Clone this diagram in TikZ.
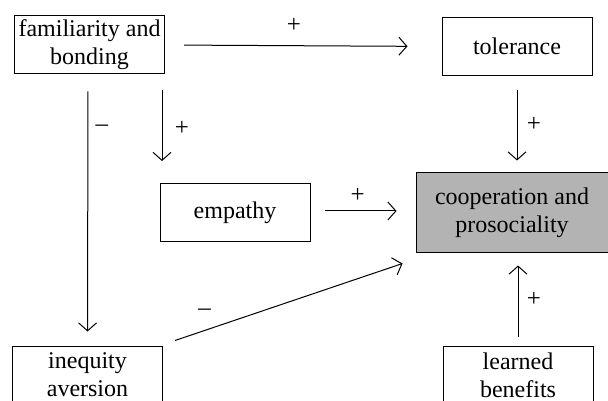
\documentclass[tikz,border=0pt]{standalone}
\usepackage{fontspec}
\setmainfont{Liberation Serif}
\usepackage{xcolor}
\usepackage{tikz}
\usetikzlibrary{arrows.meta}
\usetikzlibrary{positioning}
\definecolor{coopgray}{RGB}{179,179,179}

\tikzset{
	box/.style={draw,line width=0.5pt,align=center,inner sep=0pt,
		minimum width=75pt,minimum height=29pt,font=\fontsize{12}{14}\selectfont},
	link/.style={line width=0.5pt,-{Straight Barb[length=4pt,width=9pt]}},
	sign/.style={font=\fontsize{12.5}{14}\selectfont,inner sep=0pt}
}

\begin{document}
\begin{tikzpicture}[x=0.5pt,y=-0.5pt]
	\useasboundingbox (0,0) rectangle (608,400);
	% the boxes
	\node[box] (familiarity) at (89.5,45) {familiarity and\\bonding};
	\node[box] (tolerance) at (517,46.5) {tolerance};
	\node[box] (empathy) at (235,212.5) {empathy};
	\node[box,fill=coopgray,minimum width=96pt,minimum height=39.5pt] (cooperation) at (512,212.5) {cooperation and\\prosociality};
	\node[box] (inequity) at (87.5,375) {inequity\\aversion};
	\node[box] (learned) at (518,375) {learned\\benefits};
	% the arrows
	\draw[link,shorten <=9.5pt,shorten >=17pt] (familiarity.east) -- (tolerance.west) node[sign,pos=0.466,yshift=10pt] {+};
	\draw[link,shorten <=8.5pt,shorten >=7pt] ([xshift=-0.75pt]familiarity.south) -- (inequity.north) node[sign,pos=0.2,xshift=7pt] {–};
	\draw[link,shorten <=8pt,shorten >=11pt] ([xshift=-1.5pt]familiarity.south east) -- ([xshift=-1.5pt]familiarity.south east |- empathy.north) node[sign,midway,xshift=10pt] {+};
	\draw[link,shorten <=7pt,shorten >=6pt] (tolerance.south) -- (tolerance.south |- cooperation.north) node[sign,midway,xshift=8.5pt] {+};
	\draw[link,shorten <=7pt,shorten >=9.5pt] ([yshift=0.75pt]empathy.east) -- ([yshift=0.75pt]empathy.east -| cooperation.west) node[sign,pos=0.45,yshift=8pt] {+};
	\draw[link] ([xshift=6pt,yshift=2.5pt]inequity.north east) -- ([xshift=-6.5pt,yshift=-5.5pt]cooperation.south west) node[sign,pos=0.13,yshift=9pt] {–};
	\draw[link,shorten <=4.5pt,shorten >=6.5pt] (learned.north) -- (learned.north |- cooperation.south) node[sign,midway,xshift=8pt] {+};
\end{tikzpicture}
\end{document}
